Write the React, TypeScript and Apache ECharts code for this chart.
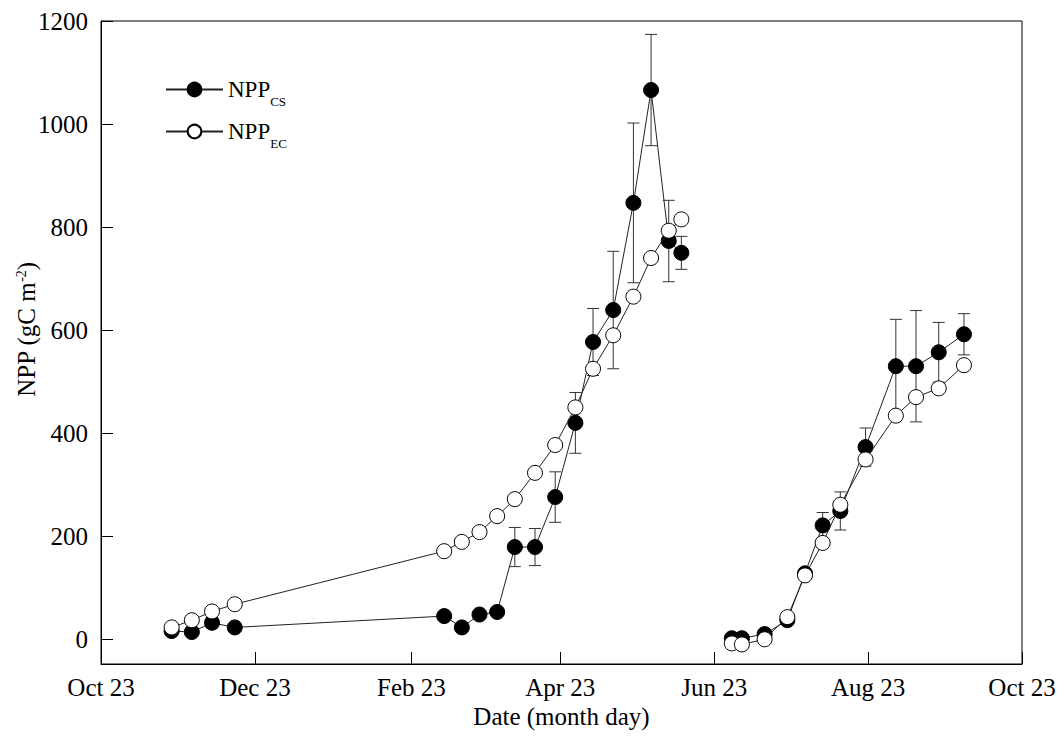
import React, { useEffect, useRef } from "react";
import * as echarts from "echarts";

// ---- data ----
const dates = [
  "2013-11-20", "2013-11-28", "2013-12-06", "2013-12-15",
  "2014-03-08", "2014-03-15", "2014-03-22", "2014-03-29", "2014-04-05", "2014-04-13",
  "2014-04-21", "2014-04-29", "2014-05-06", "2014-05-14", "2014-05-22", "2014-05-29",
  "2014-06-05", "2014-06-10",
  "2014-06-30", "2014-07-04", "2014-07-13", "2014-07-22", "2014-07-29", "2014-08-05",
  "2014-08-12", "2014-08-22", "2014-09-03", "2014-09-11", "2014-09-20", "2014-09-30",
];
const nppCS = [
  16, 14, 32, 23,
  45, 23, 48, 53, 179, 179,
  276, 420, 577, 639, 847, 1066,
  773, 750,
  2, 2, 10, 37, 128, 221,
  249, 373, 530, 530, 557, 592,
];
const nppCSErr = [
  5, 3, 10, 3,
  4, 3, 4, 4, 38, 36,
  49, 59, 65, 114, 155, 108,
  79, 32,
  8, 8, 8, 6, 8, 25,
  37, 37, 91, 108, 58, 40,
];
const nppEC = [
  23, 37, 54, 68,
  171, 189, 208, 239, 272, 323,
  377, 450, 525, 590, 665, 740,
  793, 815,
  -8, -10, 0, 43, 124, 187,
  261, 349, 434, 470, 487, 532,
];
// index of the first point of the second growing season (line is broken there)
const secondSeasonStart = 18;

const axisStart = "2013-10-23";
const tickDates = ["2013-10-23", "2013-12-23", "2014-02-23", "2014-04-23", "2014-06-23", "2014-08-23", "2014-10-23"];
const tickLabels = ["Oct 23", "Dec 23", "Feb 23", "Apr 23", "Jun 23", "Aug 23", "Oct 23"];
const yTicks = [0, 200, 400, 600, 800, 1000, 1200];

const DAY = 86400000;
const dayOffset = (iso: string) => (Date.parse(iso + "T00:00:00Z") - Date.parse(axisStart + "T00:00:00Z")) / DAY;

const FONT = "'Liberation Serif', 'Times New Roman', serif";

export default function App() {
  const ref = useRef<HTMLDivElement>(null);

  useEffect(() => {
    if (!ref.current) return;
    const chart = echarts.init(ref.current, undefined, { renderer: "svg" });

    const days = dates.map(dayOffset);
    const tickDays = tickDates.map(dayOffset);
    const pts = (vals: number[], from: number, to: number) =>
      days.slice(from, to).map((d, i) => [d, vals[from + i]]);
    const n = dates.length;
    const errData = days.map((d, i) => [d, nppCS[i] - nppCSErr[i], nppCS[i] + nppCSErr[i]]);

    const csStyle = {
      type: "line" as const,
      name: "NPP_CS",
      symbol: "circle",
      symbolSize: 15,
      itemStyle: { color: "#000", borderColor: "#000", borderWidth: 1 },
      lineStyle: { color: "#222", width: 1 },
      z: 3,
    };
    const ecStyle = {
      type: "line" as const,
      name: "NPP_EC",
      symbol: "circle",
      symbolSize: 15,
      itemStyle: { color: "#fff", borderColor: "#000", borderWidth: 1 },
      lineStyle: { color: "#222", width: 1 },
      z: 4,
    };

    const rich = {
      a: { fontSize: 23, lineHeight: 23, verticalAlign: "top", fontFamily: FONT, color: "#000" },
      b: { fontSize: 13, lineHeight: 13, verticalAlign: "top", padding: [17, 0, 0, 0], fontFamily: FONT, color: "#000" },
    };

    chart.setOption({
      animation: false,
      backgroundColor: "#fff",
      textStyle: { fontFamily: FONT, color: "#000" },
      grid: {
        left: 101, right: 40, top: 21, bottom: 76,
        outerBoundsMode: "none",
        containLabel: false,
        show: true, borderColor: "#000", borderWidth: 1, backgroundColor: "transparent",
      },
      legend: {
        data: ["NPP_CS", "NPP_EC"],
        orient: "vertical",
        left: 160,
        top: 73,
        itemWidth: 57,
        itemHeight: 17,
        itemGap: 12,
        formatter: (name: string) => (name === "NPP_CS" ? "{a|NPP}{b|CS}" : "{a|NPP}{b|EC}"),
        textStyle: { rich, fontFamily: FONT, color: "#000" },
      },
      xAxis: {
        type: "value",
        min: 0,
        max: 365,
        name: "Date (month day)",
        nameLocation: "middle",
        nameGap: 40,
        nameMoveOverlap: false,
        nameTextStyle: { fontSize: 25, fontFamily: FONT, color: "#000" },
        splitLine: { show: false },
        axisLine: { show: true, onZero: false, lineStyle: { color: "#000", width: 1 } },
        axisTick: { show: true, inside: true, length: 12, customValues: tickDays, lineStyle: { color: "#000", width: 1 } },
        axisLabel: {
          customValues: tickDays,
          margin: 11,
          fontSize: 25,
          fontFamily: FONT,
          color: "#000",
          formatter: (v: number) => {
            const i = tickDays.findIndex((t) => Math.abs(t - v) < 0.5);
            return i >= 0 ? tickLabels[i] : "";
          },
        },
      },
      yAxis: {
        type: "value",
        min: -48,
        max: 1200,
        name: "{n|NPP (gC m}{s|-2}{n|)}",
        nameLocation: "middle",
        nameGap: 62,
        nameMoveOverlap: false,
        nameRotate: 90,
        nameTextStyle: {
          fontFamily: FONT,
          color: "#000",
          padding: [0, 0, 0, 26],
          rich: {
            n: { fontSize: 25, lineHeight: 25, verticalAlign: "bottom", fontFamily: FONT, color: "#000" },
            s: { fontSize: 14, lineHeight: 14, verticalAlign: "top", padding: [0, 0, 14, 0], fontFamily: FONT, color: "#000" },
          },
        },
        splitLine: { show: false },
        axisLine: { show: true, onZero: false, lineStyle: { color: "#000", width: 1 } },
        axisTick: { show: true, inside: true, length: 12, customValues: yTicks, lineStyle: { color: "#000", width: 1 } },
        axisLabel: {
          customValues: yTicks,
          margin: 13,
          fontSize: 25,
          fontFamily: FONT,
          color: "#000",
          formatter: (v: number) => String(v),
        },
      },
      series: [
        {
          type: "custom",
          name: "errCS",
          z: 2,
          silent: true,
          data: errData,
          encode: { x: 0, y: [1, 2] },
          renderItem: (params: any, api: any) => {
            const x = api.value(0);
            const lo = api.coord([x, api.value(1)]);
            const hi = api.coord([x, api.value(2)]);
            const w = 6;
            const style = { stroke: "#333", lineWidth: 1 };
            return {
              type: "group",
              children: [
                { type: "line", shape: { x1: lo[0], y1: lo[1], x2: hi[0], y2: hi[1] }, style },
                { type: "line", shape: { x1: hi[0] - w, y1: hi[1], x2: hi[0] + w, y2: hi[1] }, style },
                { type: "line", shape: { x1: lo[0] - w, y1: lo[1], x2: lo[0] + w, y2: lo[1] }, style },
              ],
            };
          },
        },
        { ...csStyle, data: pts(nppCS, 0, secondSeasonStart) },
        { ...csStyle, data: pts(nppCS, secondSeasonStart, n) },
        { ...ecStyle, data: pts(nppEC, 0, secondSeasonStart) },
        { ...ecStyle, data: pts(nppEC, secondSeasonStart, n) },
      ],
    });

    return () => chart.dispose();
  }, []);

  return (
    <div
      ref={ref}
      style={{ position: "fixed", left: 0, top: 0, width: 1062, height: 740, background: "#fff" }}
    />
  );
}
